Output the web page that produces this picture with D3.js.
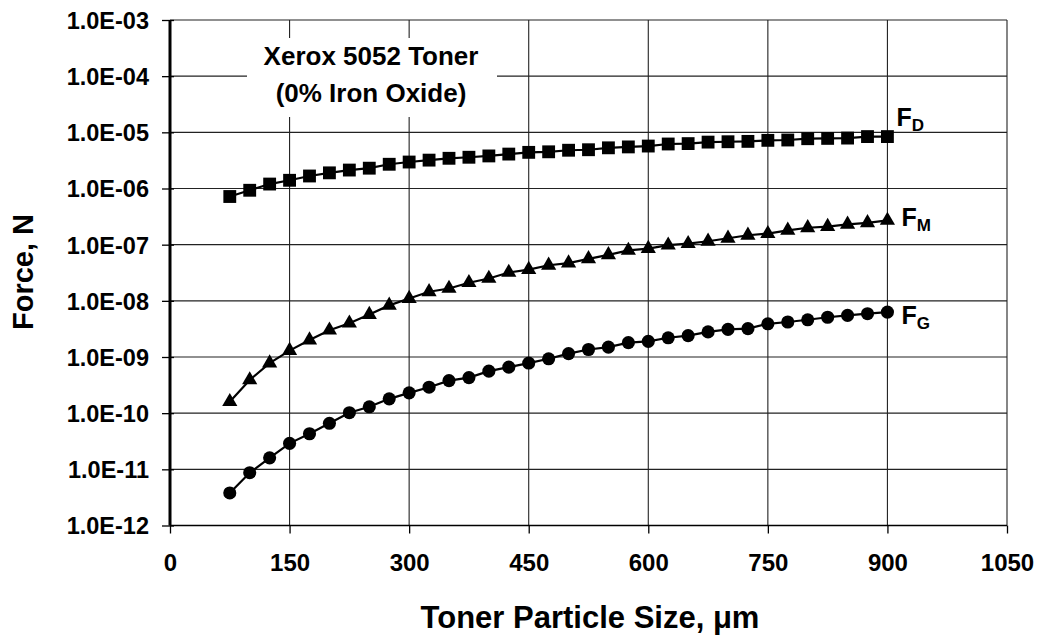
<!DOCTYPE html>
<html>
<head>
<meta charset="utf-8">
<script src="https://cdn.jsdelivr.net/npm/d3@7"></script>
<style>
  html, body { margin: 0; padding: 0; background: #fff; }
  svg { display: block; }
  text { font-family: "Liberation Sans", Arial, Helvetica, sans-serif; font-weight: bold; fill: #000; }
</style>
</head>
<body>
<svg id="chart" width="1043" height="640"></svg>
<script>
// ---- data ----
const particleSize = [75, 100, 125, 150, 175, 200, 225, 250, 275, 300, 325, 350, 375, 400, 425, 450, 475,
  500, 525, 550, 575, 600, 625, 650, 675, 700, 725, 750, 775, 800, 825, 850, 875, 900];

const forceD = [7.2e-7, 9.3e-7, 1.2e-6, 1.4e-6, 1.67e-6, 1.9e-6, 2.13e-6, 2.3e-6, 2.7e-6, 2.96e-6,
  3.2e-6, 3.45e-6, 3.6e-6, 3.8e-6, 4.1e-6, 4.4e-6, 4.5e-6, 4.8e-6, 4.9e-6, 5.3e-6, 5.5e-6, 5.7e-6,
  6.2e-6, 6.3e-6, 6.7e-6, 6.8e-6, 6.9e-6, 7.2e-6, 7.3e-6, 7.7e-6, 7.8e-6, 7.9e-6, 8.4e-6, 8.4e-6];

const forceM = [1.6e-10, 3.9e-10, 7.8e-10, 1.3e-9, 2.0e-9, 3.0e-9, 4.0e-9, 5.7e-9, 8.3e-9, 1.1e-8,
  1.45e-8, 1.66e-8, 2.1e-8, 2.5e-8, 3.2e-8, 3.6e-8, 4.3e-8, 4.7e-8, 5.6e-8, 6.6e-8, 7.9e-8, 8.5e-8,
  9.8e-8, 1.04e-7, 1.15e-7, 1.3e-7, 1.47e-7, 1.57e-7, 1.8e-7, 2.0e-7, 2.1e-7, 2.3e-7, 2.45e-7, 2.7e-7];

const forceG = [3.8e-12, 8.7e-12, 1.6e-11, 2.9e-11, 4.3e-11, 6.6e-11, 1.02e-10, 1.3e-10, 1.8e-10, 2.3e-10,
  2.9e-10, 3.8e-10, 4.3e-10, 5.6e-10, 6.6e-10, 7.8e-10, 9.3e-10, 1.15e-9, 1.36e-9, 1.5e-9, 1.8e-9, 1.9e-9,
  2.2e-9, 2.4e-9, 2.8e-9, 3.1e-9, 3.2e-9, 3.9e-9, 4.2e-9, 4.6e-9, 5.1e-9, 5.5e-9, 5.9e-9, 6.3e-9];

const xTicks = [0, 150, 300, 450, 600, 750, 900, 1050];
const yTicks = [1e-3, 1e-4, 1e-5, 1e-6, 1e-7, 1e-8, 1e-9, 1e-10, 1e-11, 1e-12];
const yTickLabels = ["1.0E-03", "1.0E-04", "1.0E-05", "1.0E-06", "1.0E-07", "1.0E-08",
  "1.0E-09", "1.0E-10", "1.0E-11", "1.0E-12"];

const seriesNames = ["D", "M", "G"];
const titleLines = ["Xerox 5052 Toner", "(0% Iron Oxide)"];
const xTitle = "Toner Particle Size, \u03BCm";
const yTitle = "Force, N";

// ---- chart ----
const svg = d3.select("#chart");
const L = 170, R = 1007, T = 20, B = 525.5;
const x = d3.scaleLinear().domain([0, 1050]).range([L, R]);
const y = d3.scaleLog().domain([1e-12, 1e-3]).range([B, T]);

// grid
const grid = svg.append("g").attr("stroke", "#222").attr("stroke-width", 1.1);
grid.selectAll("line.h").data(yTicks).join("line")
  .attr("x1", L).attr("x2", R)
  .attr("y1", d => y(d)).attr("y2", d => y(d));
grid.selectAll("line.v").data(xTicks).join("line")
  .attr("y1", T).attr("y2", B)
  .attr("x1", d => x(d)).attr("x2", d => x(d));

// white box behind the title
svg.append("rect").attr("x", 247).attr("y", 38).attr("width", 250).attr("height", 79).attr("fill", "#fff");

// axes
const yAxis = svg.append("g").attr("transform", `translate(${L},0)`)
  .call(d3.axisLeft(y).tickValues(yTicks).tickFormat((d, i) => yTickLabels[i]).tickSize(8).tickPadding(13));
yAxis.select(".domain").attr("stroke-width", 3).attr("d", `M0,${T}V${B}`);
yAxis.selectAll(".tick line").attr("stroke-width", 1.3).attr("x2", -8).attr("x1", 4);
yAxis.selectAll(".tick text").style("font-size", "23.5px").style("font-family", '"Liberation Sans", Arial, sans-serif')
  .style("font-weight", "bold").attr("dy", "0.36em");

const xAxis = svg.append("g").attr("transform", `translate(0,${B})`)
  .call(d3.axisBottom(x).tickValues(xTicks).tickFormat(d3.format("d")).tickSize(8).tickPadding(20));
xAxis.select(".domain").attr("stroke-width", 1.3).attr("d", `M${L},0H${R}`);
xAxis.selectAll(".tick line").attr("stroke-width", 1.3);
xAxis.selectAll(".tick text").style("font-size", "24px").style("font-family", '"Liberation Sans", Arial, sans-serif')
  .style("font-weight", "bold");

// series
const series = [forceD, forceM, forceG];
const symbols = [d3.symbolSquare, d3.symbolTriangle, d3.symbolCircle];
const symSizes = [165, 100, 135];
const line = d3.line().x((d, i) => x(particleSize[i])).y(d => y(d));

series.forEach((vals, k) => {
  svg.append("path").datum(vals).attr("fill", "none").attr("stroke", "#000")
    .attr("stroke-width", 2.2).attr("d", line);
  svg.append("g").selectAll("path").data(vals).join("path")
    .attr("transform", (d, i) => `translate(${x(particleSize[i])},${y(d)})`)
    .attr("d", d3.symbol().type(symbols[k]).size(symSizes[k]))
    .attr("fill", "#000");
});

// series labels
const labelOffsets = [[9, -11], [14, 6], [14, 12]];
series.forEach((vals, k) => {
  const last = vals.length - 1;
  const t = svg.append("text")
    .attr("x", x(particleSize[last]) + labelOffsets[k][0])
    .attr("y", y(vals[last]) + labelOffsets[k][1])
    .style("font-size", "25px");
  t.append("tspan").text("F");
  t.append("tspan").attr("dy", 5).style("font-size", "17px").text(seriesNames[k]);
});

// title
svg.append("g").selectAll("text").data(titleLines).join("text")
  .attr("x", 371).attr("y", (d, i) => 65 + i * 37)
  .attr("text-anchor", "middle").style("font-size", "26px").text(d => d);

// axis titles
svg.append("text").attr("x", 590).attr("y", 628).attr("text-anchor", "middle")
  .style("font-size", "31px").text(xTitle);
svg.append("text").attr("transform", "translate(33,272) rotate(-90)").attr("text-anchor", "middle")
  .style("font-size", "29px").text(yTitle);
</script>
</body>
</html>
